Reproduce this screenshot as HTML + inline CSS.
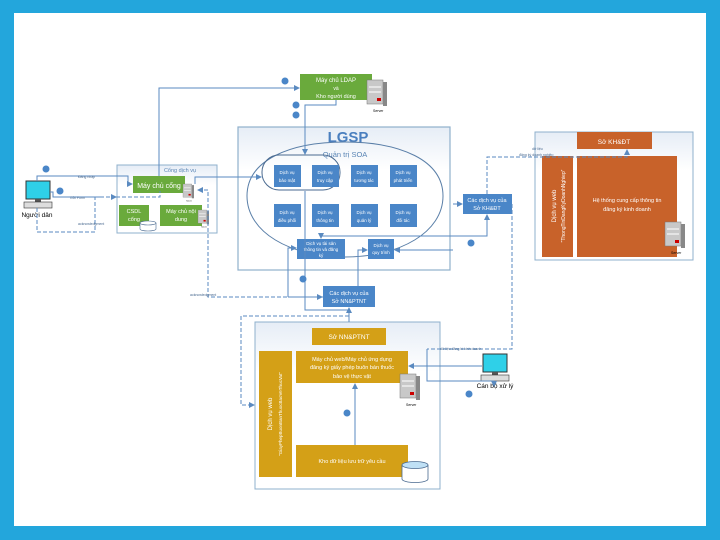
<!DOCTYPE html>
<html><head><meta charset="utf-8"><style>
html,body{margin:0;padding:0;background:#fff}
svg{display:block}
text{font-family:"Liberation Sans",sans-serif}
</style></head><body>
<svg width="720" height="540" viewBox="0 0 720 540" xmlns="http://www.w3.org/2000/svg">
<defs>
<marker id="a" markerWidth="6" markerHeight="6" refX="5" refY="3" orient="auto" markerUnits="userSpaceOnUse"><path d="M0,0 L6,3 L0,6 z" fill="#5a8ac0"/></marker>
<linearGradient id="g" x1="0" y1="0" x2="0" y2="1"><stop offset="0" stop-color="#e6edf6"/><stop offset="0.3" stop-color="#fff"/></linearGradient>
<g id="srv"><rect x="0" y="0" width="16" height="24" fill="#c8c8c8" stroke="#777" stroke-width="0.5"/><rect x="16" y="2" width="4" height="24" fill="#888"/><line x1="2" y1="7" x2="14" y2="7" stroke="#fff"/><line x1="2" y1="12" x2="14" y2="12" stroke="#fff"/><rect x="10" y="18" width="4" height="3" fill="#c00"/><text x="6" y="32" font-size="3.5">Server</text></g>
<g id="pc"><rect x="0" y="0" width="24" height="18" fill="#2fd0e8" stroke="#333"/><rect x="9" y="18" width="6" height="3" fill="#555"/><rect x="-2" y="21" width="28" height="6" fill="#ddd" stroke="#333" stroke-width="0.6"/></g>
</defs>
<rect width="720" height="540" fill="#23a6dc"/>
<rect x="14" y="13" width="692" height="513" fill="#fff"/>

<!-- KH&ĐT panel -->
<rect x="535" y="132" width="158" height="128" fill="url(#g)" stroke="#8fb0cc"/>
<rect x="577" y="132" width="75" height="17" fill="#c8622a"/>
<text x="614" y="144" font-size="6.5" fill="#fff" text-anchor="middle">Sở KH&amp;ĐT</text>
<rect x="542" y="156" width="31" height="101" fill="#c8622a"/>
<text transform="translate(556,206) rotate(-90)" font-size="6" fill="#fff" text-anchor="middle">Dịch vụ web</text>
<text transform="translate(565,206) rotate(-90)" font-size="5" fill="#fff" text-anchor="middle">“ThongTinDangKyDoanhNghiep”</text>
<rect x="577" y="156" width="100" height="101" fill="#c8622a"/>
<text x="627" y="202" font-size="5.5" fill="#fff" text-anchor="middle">Hệ thống cung cấp thông tin</text>
<text x="627" y="211" font-size="5.5" fill="#fff" text-anchor="middle">đăng ký kinh doanh</text>
<use href="#srv" x="665" y="222"/>

<!-- NN panel -->
<rect x="255" y="322" width="185" height="167" fill="url(#g)" stroke="#8fb0cc"/>
<rect x="312" y="328" width="74" height="17" fill="#d4a017"/>
<text x="349" y="339" font-size="6.5" fill="#fff" text-anchor="middle">Sở NN&amp;PTNT</text>
<rect x="259" y="351" width="33" height="126" fill="#d4a017"/>
<text transform="translate(272,414) rotate(-90)" font-size="6" fill="#fff" text-anchor="middle">Dịch vụ web</text>
<text transform="translate(282,414) rotate(-90)" font-size="4.5" fill="#fff" text-anchor="middle">“GiayPhepBuonBanThuocBaoVeThucVat”</text>
<rect x="296" y="351" width="112" height="32" fill="#d4a017"/>
<text x="352" y="361" font-size="5.5" fill="#fff" text-anchor="middle">Máy chủ web/Máy chủ ứng dụng</text>
<text x="352" y="369" font-size="5.5" fill="#fff" text-anchor="middle">đăng ký giấy phép buôn bán thuốc</text>
<text x="352" y="378" font-size="5.5" fill="#fff" text-anchor="middle">bảo vệ thực vật</text>
<use href="#srv" x="400" y="374"/>
<rect x="296" y="445" width="112" height="32" fill="#d4a017"/>
<text x="352" y="463" font-size="5.5" fill="#fff" text-anchor="middle">Kho dữ liệu lưu trữ yêu cầu</text>
<path d="M402,465 v14 a13,3.5 0 0 0 26,0 v-14" fill="#fff" stroke="#4a6a90" stroke-width="0.8"/>
<ellipse cx="415" cy="465" rx="13" ry="3.5" fill="#bfe0f5" stroke="#4a6a90" stroke-width="0.8"/>

<!-- LDAP -->
<rect x="300" y="74" width="72" height="26" fill="#6aaa3c"/>
<text x="336" y="82" font-size="6" fill="#fff" text-anchor="middle">Máy chủ LDAP</text>
<text x="336" y="90" font-size="5" fill="#fff" text-anchor="middle">và</text>
<text x="336" y="98" font-size="5.5" fill="#fff" text-anchor="middle">Kho người dùng</text>
<use href="#srv" x="367" y="80"/>

<!-- LGSP -->
<rect x="238" y="127" width="212" height="143" fill="url(#g)" stroke="#8fb0cc" stroke-width="1.2"/>
<text x="348" y="142" font-size="15" font-weight="bold" fill="#4a7fbf" text-anchor="middle">LGSP</text>
<path d="M247,196 C247,160 290,142 345,142 C400,142 443,160 443,196 C443,232 400,257 345,257 C290,257 247,232 247,196 z" fill="none" stroke="#5a7fa8" stroke-width="1"/>
<text x="345" y="157" font-size="7.5" fill="#5a85b5" text-anchor="middle">Quản trị SOA</text>
<rect x="262" y="155" width="78" height="35" rx="17" fill="none" stroke="#4a6a90" stroke-width="1"/>
<g fill="#4a86c8">
<rect x="274" y="165" width="27" height="22"/><rect x="312" y="165" width="27" height="22"/><rect x="351" y="165" width="27" height="22"/><rect x="390" y="165" width="27" height="22"/>
<rect x="274" y="204" width="27" height="23"/><rect x="312" y="204" width="27" height="23"/><rect x="351" y="204" width="27" height="23"/><rect x="390" y="204" width="27" height="23"/>
<rect x="297" y="239" width="48" height="20"/><rect x="368" y="239" width="26" height="20"/>
<rect x="323" y="286" width="52" height="21"/><rect x="463" y="194" width="49" height="20"/>
</g>
<g font-size="4.5" fill="#fff" text-anchor="middle">
<text x="287" y="174">Dịch vụ</text><text x="287" y="182">bảo mật</text>
<text x="325" y="174">Dịch vụ</text><text x="325" y="182">truy cập</text>
<text x="364" y="174">Dịch vụ</text><text x="364" y="182">tương tác</text>
<text x="403" y="174">Dịch vụ</text><text x="403" y="182">phát triển</text>
<text x="287" y="214">Dịch vụ</text><text x="287" y="222">điều phối</text>
<text x="325" y="214">Dịch vụ</text><text x="325" y="222">thông tin</text>
<text x="364" y="214">Dịch vụ</text><text x="364" y="222">quản lý</text>
<text x="403" y="214">Dịch vụ</text><text x="403" y="222">đối tác</text>
<text x="321" y="245">Dịch vụ tài sản</text><text x="321" y="251">thông tin và đăng</text><text x="321" y="257">ký</text>
<text x="381" y="247">Dịch vụ</text><text x="381" y="254">quy trình</text>
<text x="349" y="295" font-size="5.5">Các dịch vụ của</text><text x="349" y="303" font-size="5.5">Sở NN&amp;PTNT</text>
<text x="487" y="202" font-size="5.5">Các dịch vụ của</text><text x="487" y="210" font-size="5.5">Sở KH&amp;ĐT</text>
</g>

<!-- Cổng dịch vụ -->
<rect x="117" y="165" width="100" height="68" fill="url(#g)" stroke="#8fb0cc"/>
<text x="180" y="172" font-size="5.5" fill="#5a85b5" text-anchor="middle">Cổng dịch vụ</text>
<rect x="133" y="176" width="52" height="17" fill="#6aaa3c"/><text x="159" y="188" font-size="7" fill="#fff" text-anchor="middle">Máy chủ cổng</text>
<rect x="119" y="205" width="30" height="21" fill="#6aaa3c"/><text x="134" y="213" font-size="5.5" fill="#fff" text-anchor="middle">CSDL</text><text x="134" y="221" font-size="5.5" fill="#fff" text-anchor="middle">cổng</text>
<rect x="160" y="205" width="42" height="21" fill="#6aaa3c"/><text x="181" y="213" font-size="5.5" fill="#fff" text-anchor="middle">Máy chủ nội</text><text x="181" y="221" font-size="5.5" fill="#fff" text-anchor="middle">dung</text>
<path d="M140,223 v6 a8,2 0 0 0 16,0 v-6" fill="#fff" stroke="#4a6a90" stroke-width="0.6"/>
<ellipse cx="148" cy="223" rx="8" ry="2" fill="#fff" stroke="#4a6a90" stroke-width="0.6"/>
<g transform="translate(183,184) scale(0.55)"><use href="#srv"/></g>
<g transform="translate(198,210) scale(0.55)"><use href="#srv"/></g>

<!-- Người dân -->
<use href="#pc" x="26" y="181"/>
<text x="37" y="217" font-size="6.5" fill="#000" text-anchor="middle">Người dân</text>

<!-- Cán bộ -->
<use href="#pc" x="483" y="354"/>
<text x="495" y="388" font-size="6.5" fill="#000" text-anchor="middle">Cán bộ xử lý</text>

<!-- connectors -->
<g fill="none" stroke="#5a8ac0" stroke-width="1">
<path d="M159,176 V88 H299" marker-end="url(#a)"/>
<path d="M336,100 V105 H305 V154" marker-end="url(#a)"/>
<path d="M195,184 V177 H261" marker-end="url(#a)"/>
<path d="M37,181 V176 H128 V184 H132" marker-end="url(#a)"/>
<path d="M50,192 H53 V197 H100"/>
<path d="M305,191 V310 H349 V308" marker-end="url(#a)"/>
<path d="M288,297 V248 H296" marker-end="url(#a)"/>
<path d="M288,297 H322" marker-end="url(#a)"/>
<path d="M358,286 V250 H367" marker-end="url(#a)"/>
<path d="M453,250 H395" marker-end="url(#a)"/>
<path d="M453,204 H462" marker-end="url(#a)"/>
<path d="M453,236 H487 V215" marker-end="url(#a)"/>
<path d="M453,236 H321 V238" marker-end="url(#a)"/>
<path d="M349,308 V322"/>
<path d="M355,445 V384" marker-end="url(#a)"/>
<path d="M482,366 H409" marker-end="url(#a)"/>
<path d="M427,349 V381 H494 V386" marker-end="url(#a)"/>
</g>
<g fill="none" stroke="#5a8ac0" stroke-width="1" stroke-dasharray="4,2">
<path d="M100,197 H116" marker-end="url(#a)"/>
<path d="M116,197 H160 V191"/>
<path d="M37,208 V232 H95 V197"/>
<path d="M323,297 H208 V190 H198" marker-end="url(#a)"/>
<path d="M487,194 V157 H627 V156" />
<path d="M600,157 H627 V150" marker-end="url(#a)"/>
<path d="M512,204 V349 H427"/>
<path d="M349,316 H241 V405 H254" marker-end="url(#a)"/>
</g>

<!-- labels -->
<g font-size="3.5" fill="#4a6a90">
<text x="78" y="178">Đăng nhập</text>
<text x="70" y="199">Gửi Form</text>
<text x="78" y="225">acknowledgment</text>
<text x="190" y="296">acknowledgment</text>
<text x="532" y="150">dữ liệu</text>
<text x="519" y="156">đăng ký doanh nghiệp</text>
<text x="440" y="350">dữ liệu đăng kí kinh doanh</text>
</g>

<!-- number circles -->
<g fill="#4a86c8">
<circle cx="285" cy="81" r="3.5"/><circle cx="296" cy="105" r="3.5"/><circle cx="296" cy="115" r="3.5"/>
<circle cx="46" cy="169" r="3.5"/><circle cx="60" cy="191" r="3.5"/>
<circle cx="471" cy="243" r="3.5"/><circle cx="303" cy="279" r="3.5"/>
<circle cx="347" cy="413" r="3.5"/><circle cx="469" cy="394" r="3.5"/>
</g>
</svg>
</body></html>
